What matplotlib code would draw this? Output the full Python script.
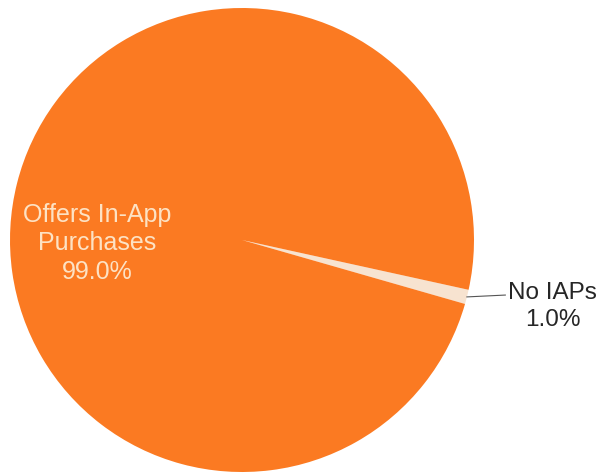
import numpy as np
import matplotlib.pyplot as plt

labels = ["No IAPs", "Offers In-App\nPurchases"]
shares = [1.0, 99.0]
colors = ["#f7e3d0", "#fb7a22"]

plt.rcParams['font.family'] = ['Liberation Sans', 'DejaVu Sans']

fig = plt.figure(figsize=(5.99, 4.75), dpi=100)
ax = fig.add_axes([0, 0, 1, 1])

start = -16.0
wedges, _ = ax.pie(shares, colors=colors, startangle=start, counterclock=True,
                   radius=1.0, center=(0, 0),
                   wedgeprops=dict(linewidth=0))

# small slice gets an outside label with a leader line
w = wedges[0]
mid = np.deg2rad((w.theta1 + w.theta2) / 2)
x0, y0 = np.cos(mid), np.sin(mid)
ax.plot([x0, 1.135], [y0, y0 + 0.008], color="#555555", lw=0.8)
ax.text(1.34, -0.285, f"{labels[0]}\n{shares[0]:.1f}%", ha="center", va="center",
        fontsize=17.5, color="#262626", linespacing=1.3)

# big slice label sits inside on the left
ax.text(-0.625, -0.015, f"{labels[1]}\n{shares[1]:.1f}%", ha="center", va="center",
        fontsize=18, color="#fde2c4", linespacing=1.25)

ax.set_xlim(-242 / 232, 357 / 232)
ax.set_ylim(-235 / 232, 240 / 232)
ax.set_aspect('auto')
ax.axis('off')

fig.savefig("out.png", dpi=100)
